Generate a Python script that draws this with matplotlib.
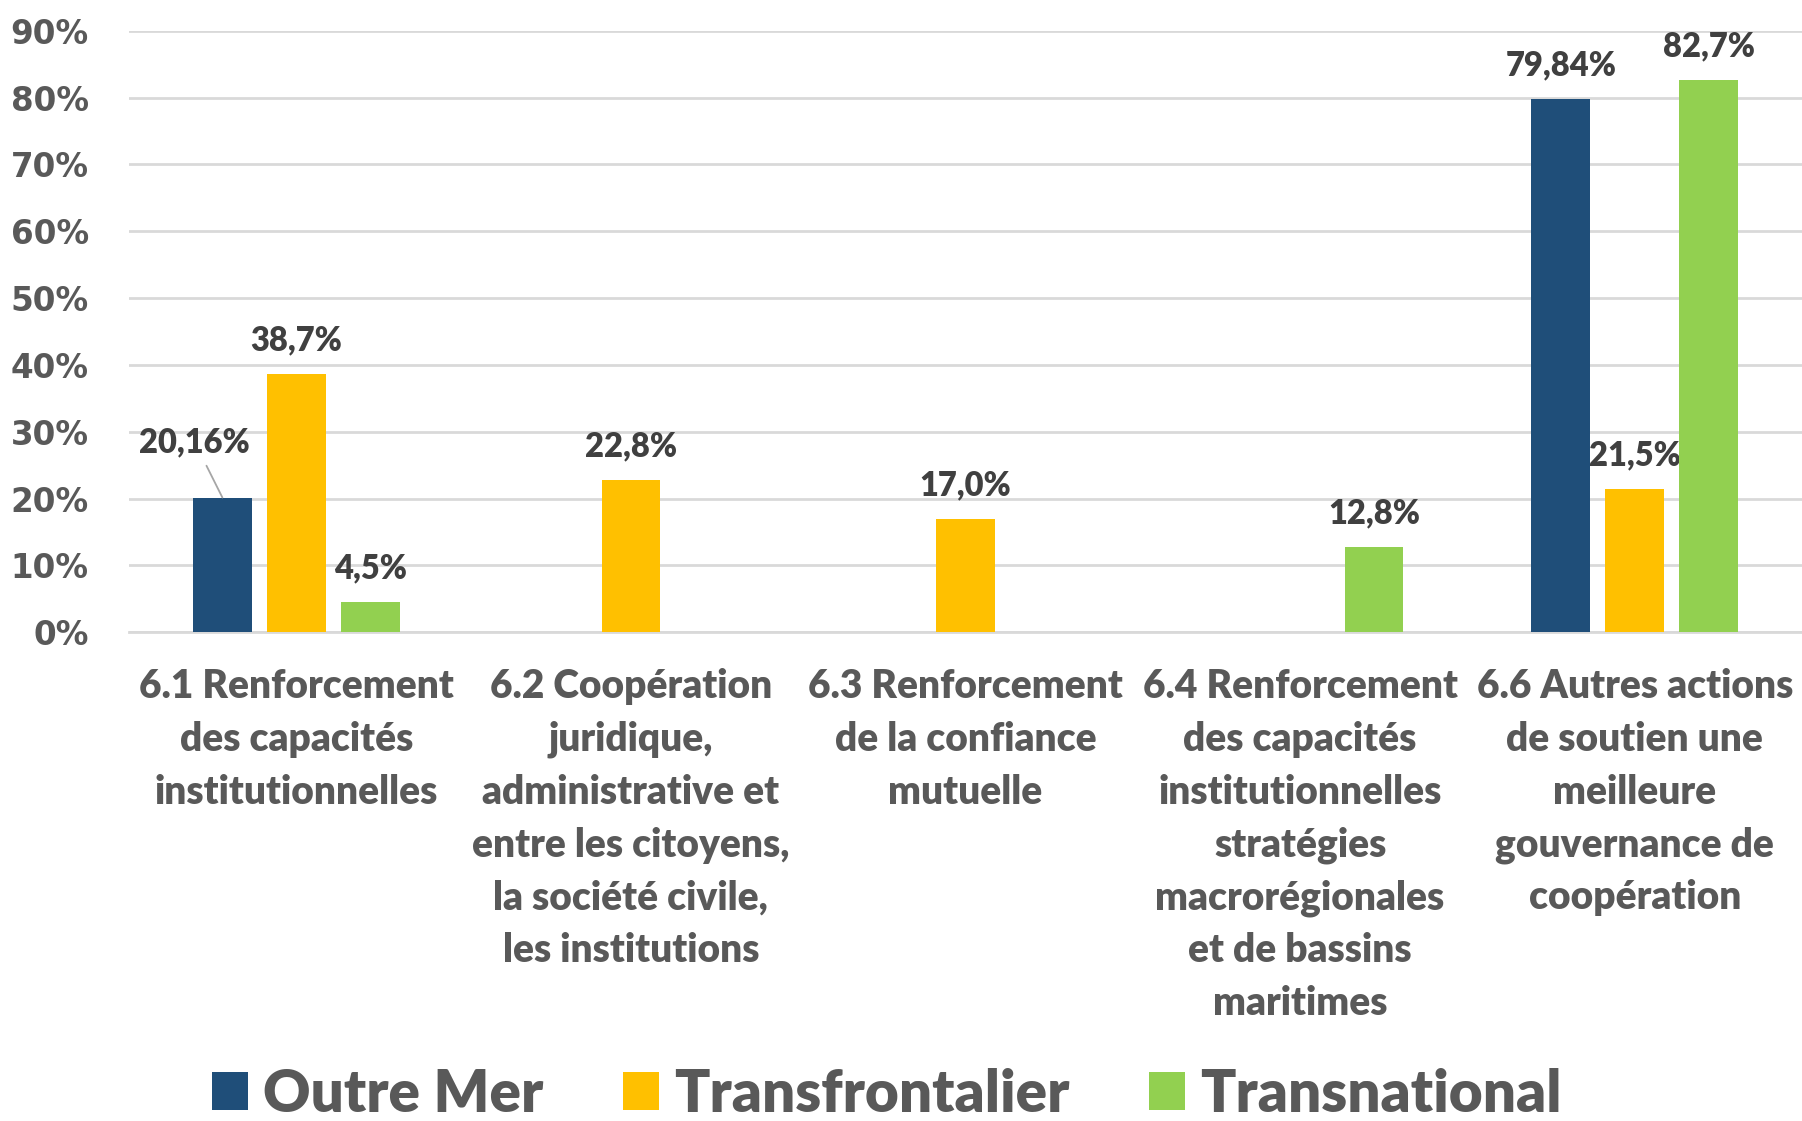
from matplotlib import pyplot as plt
import numpy as np

# Data
categories = ['6.1 Renforcement\ndes capacités\ninstitutionnelles',
              '6.2 Coopération\njuridique,\nadministrative et\nentre les citoyens,\nla société civile,\nles institutions',
              '6.3 Renforcement\nde la confiance\nmutuelle',
              '6.4 Renforcement\ndes capacités\ninstitutionnelles\nstratégies\nmacrorégionales\net de bassins\nmaritimes',
              '6.6 Autres actions\nde soutien une\nmeilleure\ngouvernance de\ncoopération']
series_names = ['Outre Mer', 'Transfrontalier', 'Transnational']
outre_mer = [20.16, np.nan, np.nan, np.nan, 79.84]
transfrontalier = [38.7, 22.8, 17.0, np.nan, 21.5]
transnational = [4.5, np.nan, np.nan, 12.8, 82.7]
decimals = [2, 1, 1]
colors = ['#1F4E79', '#FFC000', '#92D050']

fig = plt.figure(figsize=(18.02, 11.21), dpi=100)
ax = fig.add_axes([0.0716, 0.436, 0.9284, 0.5365])

x = np.arange(len(categories))
w = 0.175
step = 0.221
for i, (vals, name) in enumerate(zip([outre_mer, transfrontalier, transnational], series_names)):
    xs = x + (i - 1) * step
    v = np.array(vals)
    ax.bar(xs, v / 100, width=w, color=colors[i], label=name, zorder=3)
    for xi, vi in zip(xs, v):
        if np.isnan(vi):
            continue
        txt = f'{vi:.{decimals[i]}f}'.replace('.', ',') + '%'
        if i == 0 and xi < 0.5:
            # label pulled aside with a leader line
            ax.annotate(txt, xy=(xi, vi / 100), xytext=(-20, 40), textcoords='offset points',
                        ha='center', va='center', fontsize=23.5, fontweight=800,
                        color='#404040', family='Lato',
                        arrowprops=dict(arrowstyle='-', color='#a6a6a6', lw=1.3,
                                        shrinkA=4, shrinkB=0))
        else:
            ax.annotate(txt, xy=(xi, vi / 100), xytext=(0, 24), textcoords='offset points',
                        ha='center', va='center', fontsize=23.5, fontweight=800,
                        color='#404040', family='Lato')

ax.set_ylim(0, 0.9)
ax.set_xlim(-0.5, 4.5)
ax.set_yticks(np.arange(0, 0.91, 0.1))
ax.set_yticklabels([f'{t}%' for t in range(0, 91, 10)], fontsize=23.5,
                   fontweight='bold', color='#595959', family='DejaVu Sans')
ax.set_xticks(x)
ax.set_xticklabels(categories, fontsize=28, fontweight=800, color='#595959',
                   family='Lato', va='top', linespacing=1.52)
ax.tick_params(axis='both', length=0)
ax.tick_params(axis='x', pad=26)
ax.tick_params(axis='y', pad=29)
ax.grid(axis='y', color='#d9d9d9', lw=2, zorder=0)
for s in ['top', 'right', 'left']:
    ax.spines[s].set_visible(False)
ax.spines['bottom'].set_color('#d9d9d9')
ax.spines['bottom'].set_linewidth(2)

leg = fig.legend(loc='center', bbox_to_anchor=(0.492, 0.024), ncol=3, frameon=False,
                 handlelength=0.62, handleheight=0.62, handletextpad=0.25,
                 columnspacing=1.37, prop={'family': 'Lato', 'weight': 800, 'size': 42})
for t in leg.get_texts():
    t.set_color('#595959')

plt.savefig('out.png', dpi=100)
